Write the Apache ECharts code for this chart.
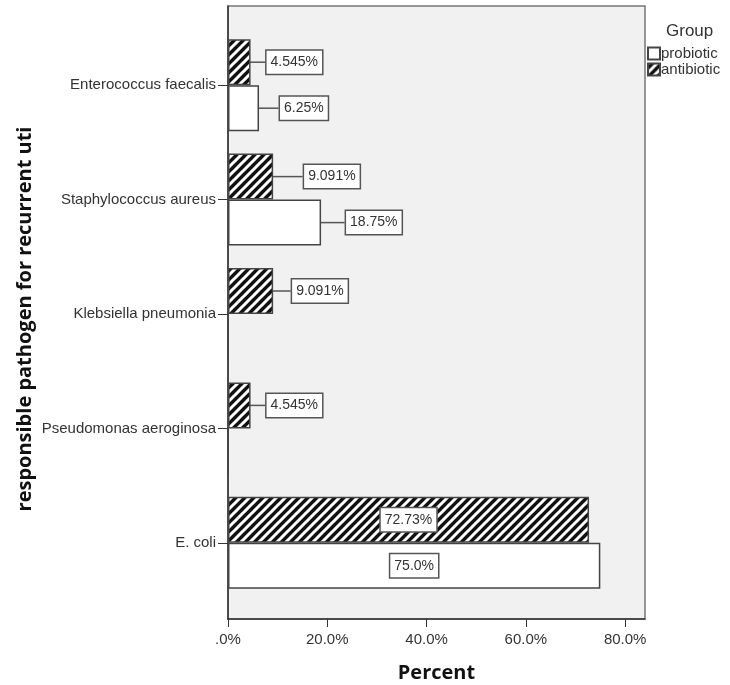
<!DOCTYPE html>
<html>
<head>
<meta charset="utf-8">
<script src="https://cdn.jsdelivr.net/npm/echarts@6/dist/echarts.min.js"></script>
<style>html,body{margin:0;padding:0;background:#fff}#c{width:730px;height:685px}</style>
</head>
<body>
<div id="c"></div>
<script>
// ---- data ----
var categories = ['Enterococcus faecalis', 'Staphylococcus aureus', 'Klebsiella pneumonia', 'Pseudomonas aeroginosa', 'E. coli'];
var probioticValues = [6.25, 18.75, 0, 0, 75.0];
var antibioticValues = [4.545, 9.091, 9.091, 4.545, 72.73];
var probioticLabels = ['6.25%', '18.75%', '', '', '75.0%'];
var antibioticLabels = ['4.545%', '9.091%', '9.091%', '4.545%', '72.73%'];
var xTickValues = [0, 20, 40, 60, 80];
var xTickLabels = ['.0%', '20.0%', '40.0%', '60.0%', '80.0%'];
var seriesNames = ['probiotic', 'antibiotic'];
var legendTitle = 'Group';
var xTitle = 'Percent';
var yTitle = 'responsible pathogen for recurrent uti';

// ---- style ----
var probGap = [21, 25, 0, 0, 0];
var antiGap = [16, 31, 19, 16, 0];
var insideIndex = 4;
var FONT = '"Liberation Sans", Arial, sans-serif';

function hatch() {
  var s = 9, c = document.createElement('canvas');
  c.width = s; c.height = s;
  var g = c.getContext('2d');
  g.fillStyle = '#111'; g.fillRect(0, 0, s, s);
  g.strokeStyle = '#fff'; g.lineWidth = 3;
  g.beginPath();
  g.moveTo(-1, s + 1); g.lineTo(s + 1, -1);
  g.moveTo(-s / 2 - 1, s / 2 + 1); g.lineTo(s / 2 + 1, -s / 2 - 1);
  g.moveTo(s / 2 - 1, 3 * s / 2 + 1); g.lineTo(3 * s / 2 + 1, s / 2 - 1);
  g.stroke();
  return { image: c, repeat: 'repeat' };
}

var boxStyle = {
  backgroundColor: '#fff', borderColor: '#555', borderWidth: 1.5,
  padding: [5, 4, 4, 4], fontSize: 14, color: '#333', fontFamily: FONT
};

function buildData(values, labels) {
  return values.map(function (v, i) {
    var item = { value: v };
    if (!labels[i]) {
      item.label = { show: false };
    } else if (i === insideIndex) {
      item.label = Object.assign({ show: true, position: 'inside', formatter: labels[i] }, boxStyle);
      item.labelLine = { show: false };
    } else {
      item.label = Object.assign({ show: true, position: 'right', distance: 0, formatter: labels[i] }, boxStyle);
    }
    return item;
  });
}

function layoutFn(gaps) {
  return function (p) {
    var g = gaps[p.dataIndex];
    return g ? { dx: g } : {};
  };
}

var chart = echarts.init(document.getElementById('c'), null, { renderer: 'canvas' });
var XMAX = 84;
chart.setOption({
  backgroundColor: '#fff',
  animation: false,
  title: {
    text: legendTitle, left: 661, top: 18,
    textStyle: { fontSize: 17, fontWeight: 'normal', color: '#333', fontFamily: FONT }
  },
  legend: {
    data: seriesNames, orient: 'vertical', left: 647, top: 46,
    itemWidth: 12, itemHeight: 12, itemGap: 1, padding: 0,
    icon: 'rect',
    textStyle: { fontSize: 15, color: '#333', fontFamily: FONT, padding: [0, 0, 0, -4] }
  },
  graphic: [{
    type: 'text', x: 25, y: 319, rotation: Math.PI / 2,
    style: {
      text: yTitle, fill: '#111', align: 'center', verticalAlign: 'middle',
      font: 'bold 20px "Open Sans", sans-serif'
    }
  }],
  grid: [
    { left: 228, top: 6, width: 417, height: 613, outerBoundsMode: 'none', containLabel: false,
      show: true, backgroundColor: '#f1f1f1', borderColor: '#777', borderWidth: 1.5 },
    { left: 228, top: 28, width: 417, height: 572, outerBoundsMode: 'none', containLabel: false }
  ],
  xAxis: [
    {
      gridIndex: 0, type: 'value', min: 0, max: XMAX,
      name: xTitle, nameLocation: 'middle', nameGap: 44,
      nameTextStyle: { fontSize: 20, fontWeight: 'bold', color: '#111', fontFamily: '"Open Sans", sans-serif' },
      splitLine: { show: false },
      axisLine: { show: true, lineStyle: { color: '#333', width: 1.5 } },
      axisTick: { show: true, length: 8, customValues: xTickValues, lineStyle: { color: '#333' } },
      axisLabel: {
        customValues: xTickValues, fontSize: 15, color: '#333', fontFamily: FONT, margin: 13,
        formatter: function (v) { return xTickLabels[xTickValues.indexOf(v)]; }
      }
    },
    { gridIndex: 1, type: 'value', min: 0, max: XMAX, show: false }
  ],
  yAxis: [
    {
      gridIndex: 0, type: 'value', min: 0, max: 1,
      splitLine: { show: false }, axisTick: { show: false }, axisLabel: { show: false },
      axisLine: { show: true, lineStyle: { color: '#333', width: 1.5 } }
    },
    {
      gridIndex: 1, type: 'category', data: categories, inverse: true,
      axisLine: { show: false },
      axisTick: { show: true, alignWithLabel: true, length: 10, lineStyle: { color: '#333' } },
      axisLabel: { fontSize: 15, color: '#333', fontFamily: FONT, margin: 12 }
    }
  ],
  series: [
    {
      name: seriesNames[1], type: 'bar', xAxisIndex: 1, yAxisIndex: 1,
      barWidth: 46, barGap: '0%',
      itemStyle: { color: hatch(), borderColor: '#444', borderWidth: 1.5 },
      data: buildData(antibioticValues, antibioticLabels),
      labelLayout: layoutFn(antiGap),
      labelLine: { show: true, lineStyle: { color: '#555', width: 1.5 } }
    },
    {
      name: seriesNames[0], type: 'bar', xAxisIndex: 1, yAxisIndex: 1,
      barWidth: 46, barGap: '0%',
      itemStyle: { color: '#fff', borderColor: '#444', borderWidth: 1.5 },
      data: buildData(probioticValues, probioticLabels),
      labelLayout: layoutFn(probGap),
      labelLine: { show: true, lineStyle: { color: '#555', width: 1.5 } }
    }
  ]
});
</script>
</body>
</html>
